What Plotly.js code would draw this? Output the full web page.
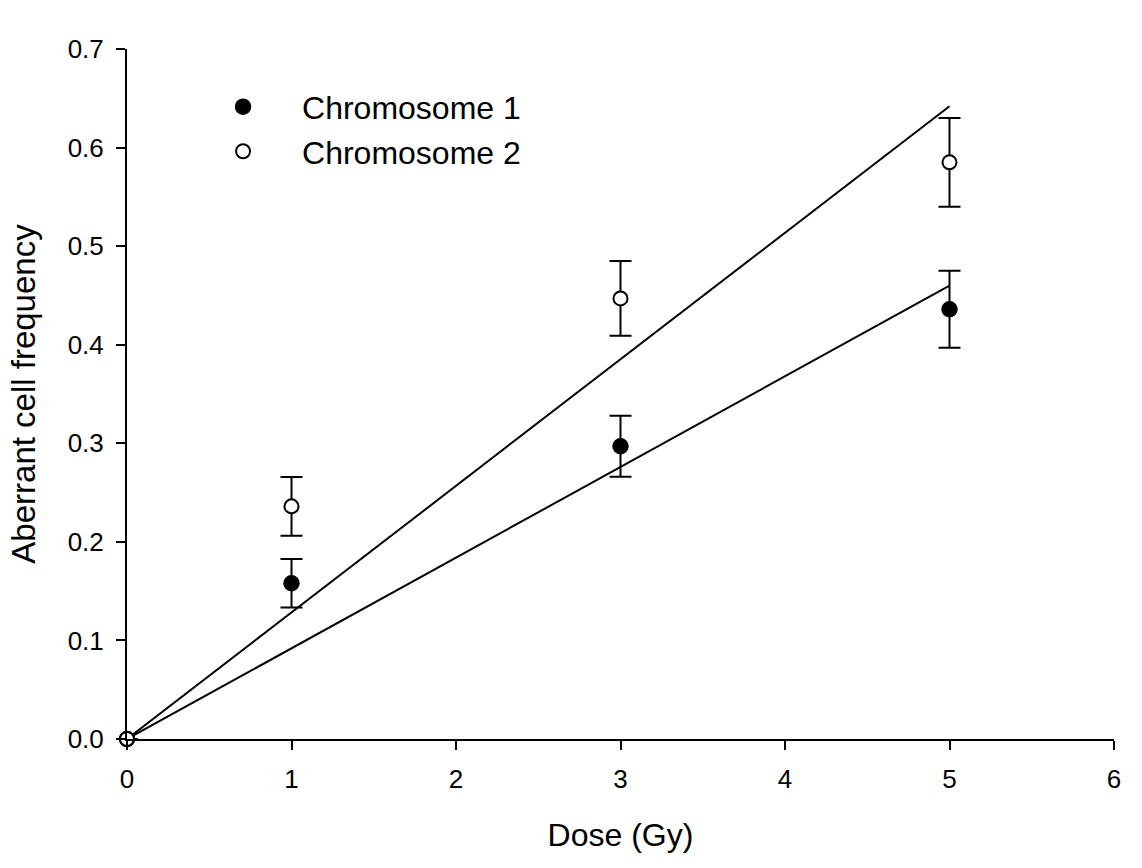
<!DOCTYPE html>
<html>
<head>
<meta charset="utf-8">
<script src="https://cdn.plot.ly/plotly-3.0.1.min.js"></script>
<style>html,body{margin:0;padding:0;background:#fff;}#chart{width:1142px;height:868px;}</style>
</head>
<body>
<div id="chart"></div>
<script>
// Data
const dose = [0, 1, 3, 5];
const chr1 = [0, 0.158, 0.297, 0.436];
const chr1Err = [0, 0.0245, 0.031, 0.039];
const chr2 = [0, 0.236, 0.447, 0.585];
const chr2Err = [0, 0.0297, 0.038, 0.045];
const fitDose = [0, 5];
const chr1Fit = [0, 0.460];
const chr2Fit = [0, 0.642];
const xTicks = [0, 1, 2, 3, 4, 5, 6];
const yTicks = [0, 0.1, 0.2, 0.3, 0.4, 0.5, 0.6, 0.7];

const FONT = 'Liberation Sans, Arial, sans-serif';

const traces = [
  {x: fitDose, y: chr1Fit, mode: 'lines', line: {color: '#000', width: 2}, showlegend: false, hoverinfo: 'skip', cliponaxis: false},
  {x: fitDose, y: chr2Fit, mode: 'lines', line: {color: '#000', width: 2}, showlegend: false, hoverinfo: 'skip', cliponaxis: false},
  {x: dose, y: chr1, name: 'Chromosome 1', mode: 'markers', cliponaxis: false,
   marker: {symbol: 'circle', size: 15, color: '#000', line: {color: '#000', width: 1.5}},
   error_y: {type: 'data', array: chr1Err, visible: true, color: '#000', thickness: 2, width: 11}},
  {x: dose, y: chr2, name: 'Chromosome 2', mode: 'markers', cliponaxis: false,
   marker: {symbol: 'circle', size: 14, color: '#fff', line: {color: '#000', width: 2}},
   error_y: {type: 'data', array: chr2Err, visible: true, color: '#000', thickness: 2, width: 11}}
];

const layout = {
  width: 1142, height: 868,
  margin: {l: 127, r: 28, t: 49, b: 129},
  paper_bgcolor: '#fff', plot_bgcolor: '#fff',
  font: {family: FONT, color: '#000'},
  showlegend: true,
  legend: {x: 0.0578, y: 0.956, xanchor: 'left', yanchor: 'top', font: {family: FONT, size: 32, color: '#000'},
           bgcolor: 'rgba(0,0,0,0)', itemwidth: 108, tracegroupgap: 0},
  xaxis: {
    range: [0, 6], tickvals: xTicks, ticktext: xTicks.map(String),
    showgrid: false, zeroline: false, showline: true, linecolor: '#000', linewidth: 2,
    ticks: 'outside', ticklen: 9, tickwidth: 2, tickcolor: '#000', ticklabelstandoff: 7,
    tickfont: {family: FONT, size: 26, color: '#000'},
    title: {text: 'Dose (Gy)', font: {family: FONT, size: 32, color: '#000'}, standoff: 30}
  },
  yaxis: {
    range: [0, 0.7], tickvals: yTicks, ticktext: yTicks.map(v => v.toFixed(1)),
    showgrid: false, zeroline: false, showline: true, linecolor: '#000', linewidth: 2,
    ticks: 'outside', ticklen: 9, tickwidth: 2, tickcolor: '#000', ticklabelstandoff: 7,
    tickfont: {family: FONT, size: 26, color: '#000'},
    title: {text: 'Aberrant cell frequency', font: {family: FONT, size: 33, color: '#000'}, standoff: 22}
  }
};

Plotly.newPlot('chart', traces, layout, {displayModeBar: false, staticPlot: true});
</script>
</body>
</html>
